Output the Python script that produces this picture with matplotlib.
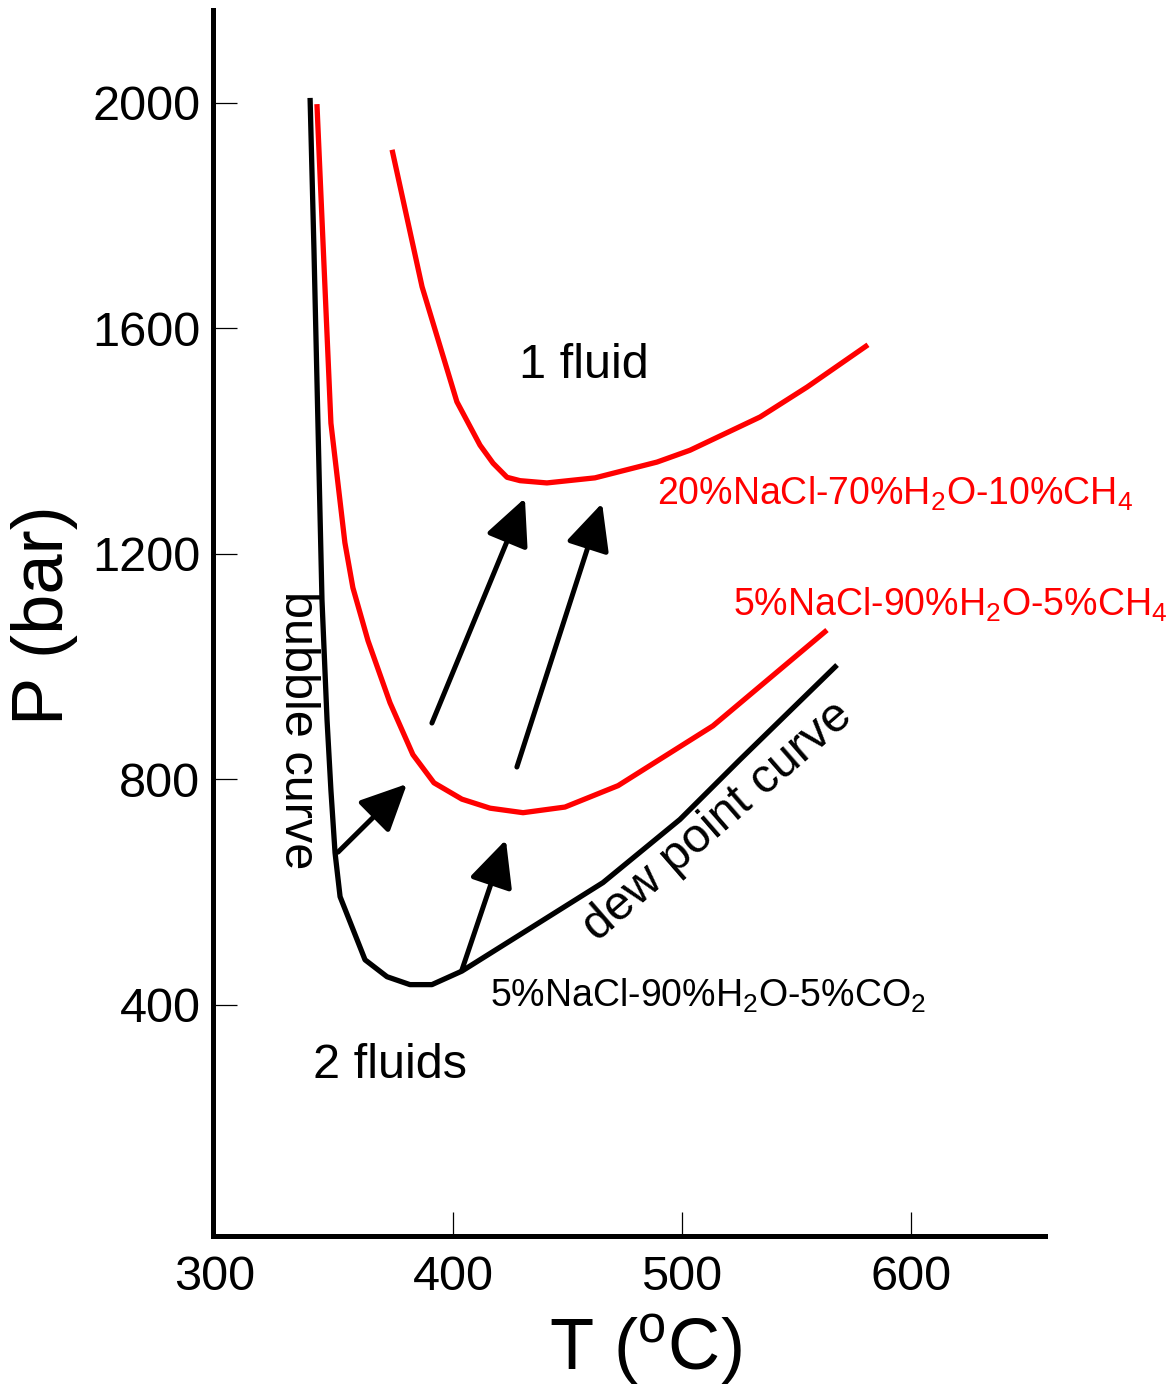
import numpy as np
import matplotlib
matplotlib.use("Agg")
import matplotlib.pyplot as plt
from matplotlib.transforms import ScaledTranslation

plt.rcParams['font.family'] = ['Liberation Sans', 'DejaVu Sans']
plt.rcParams['mathtext.fontset'] = 'custom'
plt.rcParams['mathtext.rm'] = 'Liberation Sans'
plt.rcParams['mathtext.it'] = 'Liberation Sans:italic'
plt.rcParams['mathtext.bf'] = 'Liberation Sans:bold'

# bubble + dew point curve, 5%NaCl-90%H2O-5%CO2
t_co2 = [337.6, 339.3, 341.0, 342.8, 345.0, 346.7, 348.5, 350.7, 361.6, 371.2, 381.2,
         390.8, 403.9, 430.6, 465.5, 499.1, 525.3, 567.7]
p_co2 = [2009, 1739, 1438, 1118, 906, 781, 670, 592, 480, 450, 436,
         436, 460, 528, 617, 729, 835, 1003]

# 5%NaCl-90%H2O-5%CH4
t_ch4_5 = [340.6, 346.7, 352.8, 356.3, 362.9, 372.5, 382.5, 391.7, 403.9, 416.2,
           430.6, 448.9, 472.1, 513.5, 563.3]
p_ch4_5 = [1998, 1432, 1220, 1140, 1046, 936, 844, 794, 765, 749,
           741, 751, 789, 895, 1065]

# 20%NaCl-70%H2O-10%CH4
t_ch4_10 = [373.4, 386.5, 401.7, 411.8, 417.5, 423.6, 429.3, 441.0, 462.0, 489.1,
            503.5, 534.1, 554.6, 581.2]
p_ch4_10 = [1917, 1674, 1470, 1393, 1361, 1336, 1330, 1326, 1335, 1363,
            1384, 1443, 1496, 1571]

# arrows (tail T, tail P, tip T, tip P)
arrows = [(349.8, 671, 379.9, 792),
          (403.9, 462, 423.1, 693),
          (390.8, 900, 431.4, 1299),
          (427.9, 822, 465.1, 1290)]

xticks = [300, 400, 500, 600]
yticks = [400, 800, 1200, 1600, 2000]

fig = plt.figure(figsize=(11.76, 13.86), dpi=100)
ax = fig.add_axes([0.1811, 0.1082, 0.7075, 0.8846])

lw = 3.8
ax.plot(t_co2, p_co2, color='black', lw=lw, solid_capstyle='butt', solid_joinstyle='round')
ax.plot(t_ch4_5, p_ch4_5, color='#ff0000', lw=lw, solid_capstyle='butt', solid_joinstyle='round')
ax.plot(t_ch4_10, p_ch4_10, color='#ff0000', lw=lw, solid_capstyle='butt', solid_joinstyle='round')

for t0, p0, t1, p1 in arrows:
    ax.annotate('', xy=(t1, p1), xytext=(t0, p0),
                arrowprops=dict(arrowstyle='-|>,head_length=0.42,head_width=0.2',
                                mutation_scale=68, lw=3.6, color='black',
                                shrinkA=0, shrinkB=0))

ax.set_xlim(295.2, 658.5)
ax.set_ylim(-10, 2165)

for s in ['top', 'right']:
    ax.spines[s].set_visible(False)
for s in ['left', 'bottom']:
    ax.spines[s].set_linewidth(3.6)

ax.set_xticks(xticks)
ax.set_yticks(yticks)
ax.tick_params(axis='both', direction='in', length=17, width=0.9, labelsize=35)
ax.tick_params(axis='x', pad=14)
ax.tick_params(axis='y', pad=9)
ax.xaxis.get_major_ticks()[0].tick1line.set_visible(False)
lab0 = ax.get_xticklabels()[0]
lab0.set_transform(lab0.get_transform() + ScaledTranslation(-0.09, 0, fig.dpi_scale_trans))

ax.text(457.2, 1535, '1 fluid', fontsize=35, ha='center', va='center')
ax.text(372.5, 292, '2 fluids', fontsize=35, ha='center', va='center')
ax.text(489.1, 1287, '20%NaCl-70%H$_2$O-10%CH$_4$', fontsize=27, color='#ff0000',
        ha='left', va='baseline')
ax.text(522.3, 1090, '5%NaCl-90%H$_2$O-5%CH$_4$', fontsize=27, color='#ff0000',
        ha='left', va='baseline')
ax.text(416.2, 396, '5%NaCl-90%H$_2$O-5%CO$_2$', fontsize=27, color='black',
        ha='left', va='baseline')
ax.text(331.9, 888, 'bubble curve', fontsize=35, rotation=-90,
        ha='center', va='center', rotation_mode='anchor')
ax.text(515.7, 725, 'dew point curve', fontsize=35, rotation=41,
        ha='center', va='center', rotation_mode='anchor')

fig.text(45 / 1176, 1 - 615 / 1386, 'P (bar)', fontsize=52, rotation=90,
         ha='center', va='center')
fig.text(645 / 1176, 1 - 1350 / 1386, 'T ($^{\\mathrm{o}}$C)', fontsize=52,
         ha='center', va='center')

fig.savefig('out.png', dpi=100)
